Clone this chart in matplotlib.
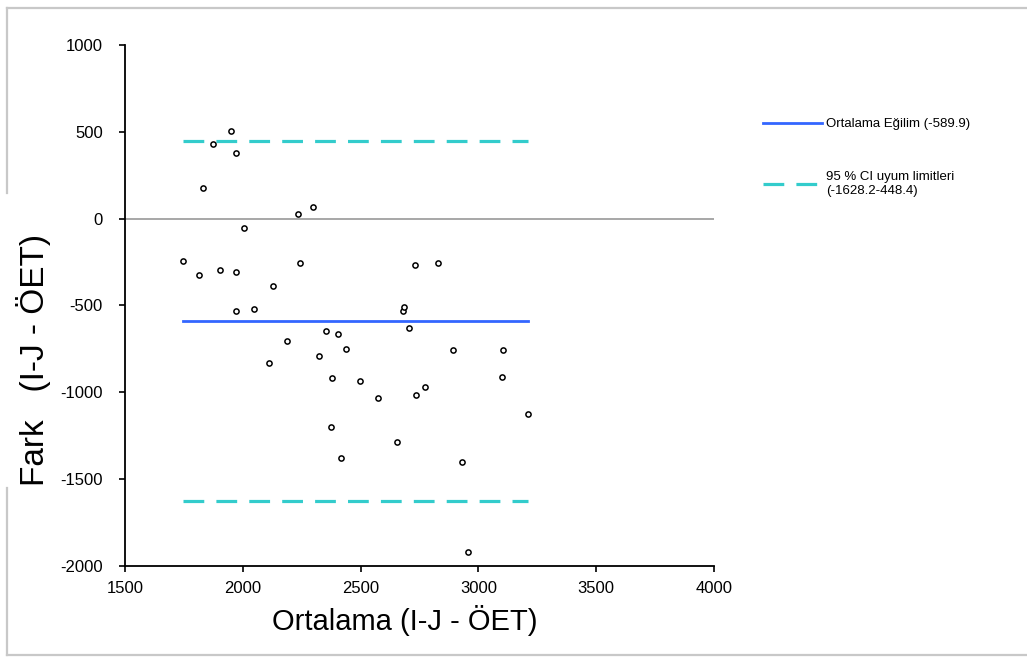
import matplotlib
matplotlib.use("Agg")
import matplotlib.pyplot as plt
from matplotlib.lines import Line2D

plt.rcParams['font.family'] = ['Liberation Sans', 'DejaVu Sans']
plt.rcParams['axes.unicode_minus'] = False

# Bland-Altman verileri
ortalama = [1747, 1815, 1830, 1873, 1903, 1949, 1972, 1972, 1972, 2004,
            2047, 2110, 2129, 2186, 2236, 2242, 2298, 2324, 2355, 2374,
            2379, 2404, 2417, 2437, 2499, 2574, 2654, 2679, 2686, 2704,
            2730, 2737, 2773, 2830, 2892, 2929, 2954, 3099, 3104, 3212]
fark = [-245, -324, 178, 428, -294, 507, 380, -309, -533, -52,
        -518, -831, -389, -702, 27, -253, 67, -790, -645, -1197,
        -919, -662, -1376, -748, -934, -1030, -1287, -533, -508, -629,
        -268, -1015, -967, -253, -758, -1399, -1921, -910, -758, -1126]

ort_egilim = -589.9
alt_limit = -1628.2
ust_limit = 448.4

xticks = [1500, 2000, 2500, 3000, 3500, 4000]
yticks = [-2000, -1500, -1000, -500, 0, 500, 1000]

fig = plt.figure(figsize=(10.27, 6.57), dpi=100)
ax = fig.add_axes([125 / 1027, 1 - 566 / 657, 589 / 1027, 521 / 657])

xmin, xmax = min(ortalama), max(ortalama)

# sifir cizgisi
ax.plot([1500, 4000], [0, 0], color="#a0a0a0", lw=1.3, zorder=1)

# ortalama egilim ve limitler
l1, = ax.plot([xmin, xmax], [ort_egilim, ort_egilim], color="#3366FF", lw=2.0,
              label="Ortalama Eğilim (-589.9)", zorder=2)
l2, = ax.plot([xmin, xmax], [ust_limit, ust_limit], color="#33CCCC", lw=2.3,
              linestyle=(0, (6.5, 3.8)), zorder=2,
              label="95 % CI uyum limitleri\n(-1628.2-448.4)")
ax.plot([xmin, xmax], [alt_limit, alt_limit], color="#33CCCC", lw=2.3,
        linestyle=(0, (6.5, 3.8)), zorder=2)

# noktalar
ax.scatter(ortalama, fark, s=14, facecolors="white", edgecolors="black",
           linewidths=1.1, zorder=3)

ax.set_xlim(1500, 4000)
ax.set_ylim(-2000, 1000)
ax.set_xticks(xticks)
ax.set_yticks(yticks)
ax.spines['top'].set_visible(False)
ax.spines['right'].set_visible(False)
ax.spines['left'].set_linewidth(1.3)
ax.spines['bottom'].set_linewidth(1.3)
ax.tick_params(axis='both', direction='out', length=4, width=1.2, labelsize=12)
ax.tick_params(axis='y', pad=12)
ax.tick_params(axis='x', pad=7)

ax.set_xlabel("Ortalama (I-J - ÖET)", fontsize=21)
ax.xaxis.set_label_coords(0.475, -0.074)
ax.set_ylabel("Fark   (I-J - ÖET)", fontsize=24)
ax.yaxis.set_label_coords(-0.125, 0.395)

fig.legend(handles=[l1, l2], loc="upper left", bbox_to_anchor=(763 / 1027, 1 - 118 / 657),
           frameon=False, fontsize=9.5, handlelength=4.5, handletextpad=0.3,
           labelspacing=3.1, borderaxespad=0, borderpad=0)

# dis cerceve
gri = "#c8c8c8"
fig.add_artist(Line2D([7 / 1027, 1.01], [1 - 8 / 657, 1 - 8 / 657], color=gri, lw=1.6, transform=fig.transFigure))
fig.add_artist(Line2D([7 / 1027, 1.01], [1 - 655 / 657, 1 - 655 / 657], color=gri, lw=1.6, transform=fig.transFigure))
fig.add_artist(Line2D([7 / 1027, 7 / 1027], [1 - 8 / 657, 1 - 193 / 657], color=gri, lw=1.6, transform=fig.transFigure))
fig.add_artist(Line2D([7 / 1027, 7 / 1027], [1 - 488 / 657, 1 - 655 / 657], color=gri, lw=1.6, transform=fig.transFigure))

plt.savefig("out.png", dpi=100)
